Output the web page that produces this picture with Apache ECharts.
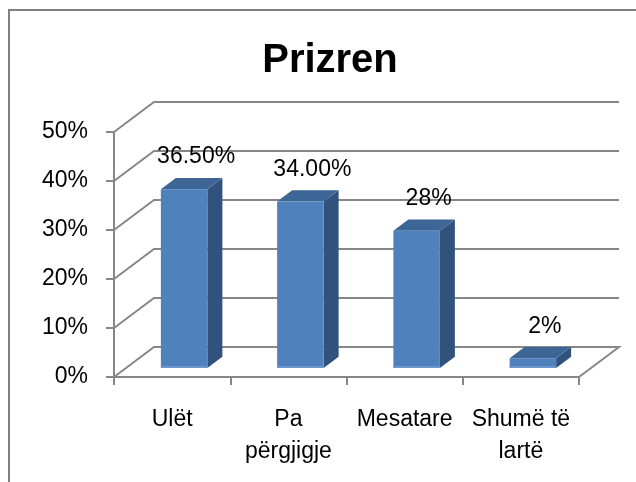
<!DOCTYPE html>
<html>
<head>
<meta charset="utf-8">
<script src="https://cdn.jsdelivr.net/npm/echarts@6/dist/echarts.min.js"></script>
<style>
  html, body { margin: 0; padding: 0; background: #fff; }
  #chart { width: 636px; height: 482px; }
</style>
</head>
<body>
<div id="chart"></div>
<script>
// data
var categories = ['Ulët', 'Pa\npërgjigje', 'Mesatare', 'Shumë të\nlartë'];
var values = [36.5, 34, 28, 2];
var valueLabels = ['36.50%', '34.00%', '28%', '2%'];
var yTicks = [0, 10, 20, 30, 40, 50];

// fake 3d depth of the box (px)
var DX = 40, DY = -30;
var gridColor = '#878787';
var font = '"Liberation Sans", Arial, sans-serif';

var chart = echarts.init(document.getElementById('chart'));

// back wall / floor lines
function renderWall(params, api) {
	var v = api.value(1);
	var half = api.size([1, 0])[0] / 2;
	var p0 = api.coord([0, v]);
	var p3 = api.coord([categories.length - 1, v]);
	var fl = [p0[0] - half, p0[1]];
	var fr = [p3[0] + half, p3[1]];
	var pts = [fl, [fl[0] + DX, fl[1] + DY], [fr[0] + DX, fr[1] + DY]];
	if (v === 0) {
		pts.push(fr); // right edge of floor
	}
	return {
		type: 'polyline',
		shape: { points: pts },
		style: { stroke: gridColor, lineWidth: 2, fill: null }
	};
}

// 3d column: front, side, top
function renderBar(params, api) {
	var i = api.value(0);
	var top = api.coord([i, api.value(1)]);
	var base = api.coord([i, 0]);
	var cw = api.size([1, 0])[0];
	var bw = cw * 0.40;
	var fx = 0.3 * DX, fy = 0.3 * DY;      // bar sits a bit back in the box
	var sx = 0.375 * DX, sy = 0.375 * DY;  // bar depth
	var cx = top[0] + fx;
	var x0 = cx - bw / 2, x1 = cx + bw / 2;
	var yt = top[1] + fy, yb = base[1] + fy;
	return {
		type: 'group',
		children: [
			{
				type: 'polygon',
				shape: { points: [[x1, yt], [x1 + sx, yt + sy], [x1 + sx, yb + sy], [x1, yb]] },
				style: { fill: '#30527c' }
			},
			{
				type: 'polygon',
				shape: { points: [[x0, yt], [x0 + sx, yt + sy], [x1 + sx, yt + sy], [x1, yt]] },
				style: { fill: '#3d6696' }
			},
			{
				type: 'rect',
				shape: { x: x0, y: yt, width: bw, height: yb - yt },
				style: { fill: '#4f81bd' }
			},
			{
				type: 'rect',
				shape: { x: x0, y: yb - 2, width: bw, height: 2 },
				style: { fill: '#6d97cc' }
			},
			{
				type: 'text',
				style: {
					text: valueLabels[params.dataIndex],
					x: cx + 12,
					y: yt - 32,
					align: 'center',
					verticalAlign: 'middle',
					fill: '#000',
					font: '23px ' + font
				}
			}
		]
	};
}

var option = {
	backgroundColor: '#fff',
	animation: false,
	title: {
		text: 'Prizren',
		left: 325,
		top: 36,
		textAlign: 'center',
		textStyle: {
			fontFamily: font,
			fontSize: 40,
			fontWeight: 'bold',
			color: '#000',
			lineHeight: 40
		}
	},
	graphic: [
		{
			type: 'rect',
			shape: { x: 9, y: 10, width: 700, height: 600 },
			style: { fill: null, stroke: '#808080', lineWidth: 2 },
			z: 100
		}
	],
	grid: { left: 114, right: 57, top: 132, bottom: 105 },
	xAxis: {
		type: 'category',
		data: categories,
		axisLine: { show: true, lineStyle: { color: gridColor, width: 2 } },
		axisTick: { show: true, length: 8, lineStyle: { color: gridColor, width: 2 } },
		axisLabel: {
			interval: 0,
			margin: 27,
			color: '#000',
			fontFamily: font,
			fontSize: 23,
			lineHeight: 32
		},
		splitLine: { show: false }
	},
	yAxis: {
		type: 'value',
		min: yTicks[0],
		max: yTicks[yTicks.length - 1],
		interval: yTicks[1] - yTicks[0],
		axisLine: { show: true, lineStyle: { color: gridColor, width: 2 } },
		axisTick: { show: true, length: 8, lineStyle: { color: gridColor, width: 2 } },
		axisLabel: {
			formatter: '{value}%',
			margin: 26,
			color: '#000',
			fontFamily: font,
			fontSize: 23
		},
		splitLine: { show: false }
	},
	series: [
		{
			type: 'custom',
			renderItem: renderWall,
			data: yTicks.map(function (v) { return [0, v]; }),
			z: 1,
			silent: true
		},
		{
			type: 'custom',
			renderItem: renderBar,
			data: values.map(function (v, i) { return [i, v]; }),
			z: 2
		}
	]
};
chart.setOption(option);
</script>
</body>
</html>
